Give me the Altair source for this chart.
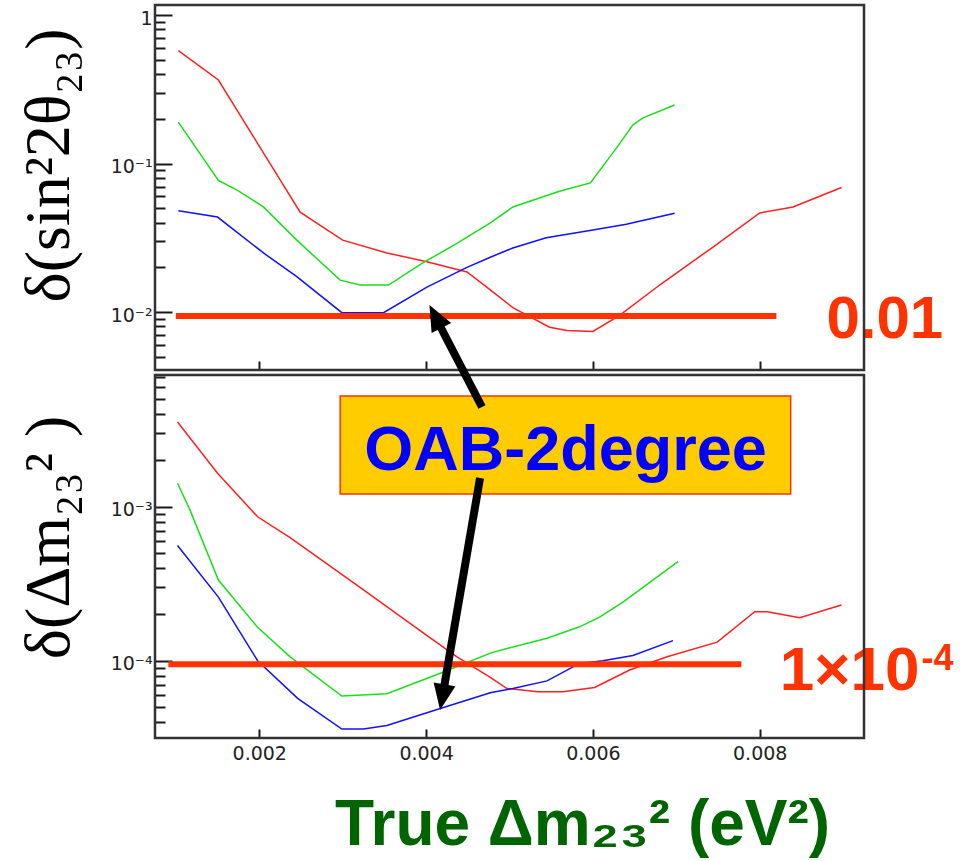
import altair as alt
import pandas as pd

# ---------------- data ----------------
series_names = ["red", "green", "blue"]
series_colors = ["#ff1f1f", "#18e018", "#1010ff"]

# top panel: delta(sin^2 2theta23) vs true dm23^2
top_red_x = [0.00103, 0.00151, 0.00249, 0.0030, 0.00353, 0.00401, 0.00449, 0.00477, 0.00504,
             0.00548, 0.00569, 0.0060, 0.00632, 0.0068, 0.00744, 0.0080, 0.0084, 0.00898]
top_red_y = [0.575, 0.365, 0.047, 0.0305, 0.025, 0.0218, 0.0186, 0.0141, 0.0107,
             0.0079, 0.0075, 0.0074, 0.0095, 0.0152, 0.0274, 0.0465, 0.051, 0.069]
top_green_x = [0.00103, 0.00151, 0.00174, 0.00205, 0.00245, 0.00297, 0.00321, 0.00355, 0.00396,
               0.00437, 0.00477, 0.00504, 0.0056, 0.00597, 0.00629, 0.00648, 0.0066, 0.00698]
top_green_y = [0.19, 0.077, 0.066, 0.051, 0.0305, 0.0164, 0.0152, 0.0152, 0.0214,
               0.029, 0.0398, 0.051, 0.065, 0.074, 0.129, 0.182, 0.203, 0.248]
top_blue_x = [0.00103, 0.0015, 0.00205, 0.00245, 0.00299, 0.00349, 0.00401, 0.00449, 0.00477,
              0.00504, 0.00544, 0.0060, 0.0064, 0.00698]
top_blue_y = [0.048, 0.0436, 0.025, 0.0173, 0.0099, 0.0099, 0.0147, 0.020, 0.0234,
              0.027, 0.0316, 0.0357, 0.039, 0.0463]

# bottom panel: delta(dm23^2) vs true dm23^2
bot_red_x = [0.00102, 0.0015, 0.00198, 0.00237, 0.00325, 0.00397, 0.00437, 0.00477, 0.00497, 0.00534,
             0.00564, 0.00602, 0.00644, 0.00689, 0.00749, 0.00794, 0.00809, 0.00848, 0.00898]
bot_red_y = [3.55e-3, 1.65e-3, 8.6e-4, 6.3e-4, 2.88e-4, 1.51e-4, 1.06e-4, 7.8e-5, 6.6e-5, 6.3e-5,
             6.3e-5, 6.7e-5, 8.7e-5, 1.06e-4, 1.32e-4, 2.08e-4, 2.08e-4, 1.9e-4, 2.3e-4]
bot_green_x = [0.00102, 0.00117, 0.00151, 0.00198, 0.00237, 0.00299, 0.00353, 0.00417, 0.00477,
               0.00497, 0.00545, 0.00584, 0.00608, 0.00636, 0.00702]
bot_green_y = [1.42e-3, 9.5e-4, 3.34e-4, 1.65e-4, 1.06e-4, 5.9e-5, 6.1e-5, 8.3e-5, 1.12e-4,
               1.2e-4, 1.4e-4, 1.66e-4, 1.92e-4, 2.4e-4, 4.4e-4]
bot_blue_x = [0.00102, 0.00151, 0.00198, 0.00246, 0.00299, 0.00325, 0.00353, 0.00417, 0.00477,
              0.00504, 0.00545, 0.00584, 0.00612, 0.00648, 0.00696]
bot_blue_y = [5.6e-4, 2.59e-4, 1.0e-4, 5.7e-5, 3.6e-5, 3.6e-5, 3.8e-5, 4.9e-5, 6.2e-5,
              6.6e-5, 7.4e-5, 9.6e-5, 1.0e-4, 1.08e-4, 1.35e-4]

# reference goals
top_ref_x = [0.001, 0.0082]
top_ref_y = [0.0094, 0.0094]
bot_ref_x = [0.00091, 0.00778]
bot_ref_y = [9.5e-5, 9.5e-5]

# axis ticks / labels
x_tick_values = [0.002, 0.004, 0.006, 0.008]
top_label_values = [1, 0.1, 0.01]
top_label_texts = ["1", "10⁻¹", "10⁻²"]
bot_label_values = [1e-3, 1e-4]
bot_label_texts = ["10⁻³", "10⁻⁴"]

# ---------------- layout constants ----------------
W, H = 977, 861
X_RANGE = [155, 864]
TOP_RANGE = [370, 5]
BOT_RANGE = [738, 375]
x_domain = [0.00075, 0.00925]
top_domain = [0.00407, 1.168]
bot_domain = [3.15e-5, 7.16e-3]


def long_df(xs_list, ys_list):
    rows = []
    for name, xs_, ys_ in zip(series_names, xs_list, ys_list):
        for xv, yv in zip(xs_, ys_):
            rows.append({"x": xv, "y": yv, "s": name})
    return pd.DataFrame(rows)


top_df = long_df([top_red_x, top_green_x, top_blue_x], [top_red_y, top_green_y, top_blue_y])
bot_df = long_df([bot_red_x, bot_green_x, bot_blue_x], [bot_red_y, bot_green_y, bot_blue_y])
top_ref_df = pd.DataFrame({"x": top_ref_x, "y": top_ref_y})
bot_ref_df = pd.DataFrame({"x": bot_ref_x, "y": bot_ref_y})
one = pd.DataFrame({"a": [0]})


def log_ticks(lo, hi, exps, major):
    out = []
    for e in exps:
        for m in range(1, 10):
            v = m * 10.0 ** e
            if lo <= v <= hi and ((m == 1) == major):
                out.append(v)
    return out


def label_expr(vals, texts):
    parts = [f"abs(datum.value - {v}) < {v * 0.01} ? '{t}'" for v, t in zip(vals[:-1], texts[:-1])]
    return " : ".join(parts) + f" : '{texts[-1]}'"


xs = alt.Scale(domain=x_domain, range=X_RANGE, nice=False, zero=False)
ys_top = alt.Scale(type="log", domain=top_domain, range=TOP_RANGE, nice=False)
ys_bot = alt.Scale(type="log", domain=bot_domain, range=BOT_RANGE, nice=False)
color = alt.Color("s:N", scale=alt.Scale(domain=series_names, range=series_colors), legend=None)

FRAME = "#333333"
TICK = "#1a1a1a"
REF = "#ff3300"
serif = "Liberation Serif, DejaVu Serif, serif"
sans = "Liberation Sans, Arial, sans-serif"


def tick_x_axis(off):
    return alt.Axis(orient="top", offset=off, values=x_tick_values, labels=False, domain=False,
                    grid=False, tickSize=9, tickWidth=2, tickColor=TICK, title=None)


def tick_y_axis(vals, size):
    return alt.Axis(orient="right", offset=-(W - X_RANGE[0]), values=vals, labels=False,
                    domain=False, grid=False, tickSize=size, tickWidth=2, tickColor=TICK,
                    title=None)


def carrier(df, yscale, xaxis, yaxis):
    """Invisible layer whose only job is to carry an axis."""
    return alt.Chart(df).mark_point(opacity=0).encode(
        x=alt.X("x:Q", scale=xs, axis=xaxis),
        y=alt.Y("y:Q", scale=yscale, axis=yaxis),
    )


def frame(ydom):
    return alt.Chart(one).mark_rect(fillOpacity=0, stroke=FRAME, strokeWidth=2.5).encode(
        x=alt.datum(x_domain[0]), x2=alt.datum(x_domain[1]),
        y=alt.datum(ydom[0]), y2=alt.datum(ydom[1]))


# ---------------- top panel ----------------
top_lines = alt.Chart(top_df).mark_line(strokeWidth=1.5).encode(
    x=alt.X("x:Q", scale=xs, axis=None),
    y=alt.Y("y:Q", scale=ys_top, axis=None),
    color=color,
)
top_ref = alt.Chart(top_ref_df).mark_line(color=REF, strokeWidth=6).encode(
    x=alt.X("x:Q", axis=None), y=alt.Y("y:Q", axis=None))
top_text = alt.Chart(one).mark_text(text="0.01", align="left", baseline="alphabetic", font=sans,
                                    fontWeight="bold", fontSize=60, color=REF).encode(
    x=alt.datum(0.0088), y=alt.datum(0.00668))
top_main = alt.layer(top_lines, top_ref, top_text, frame(top_domain))

top_ticks_major = carrier(top_df, ys_top, tick_x_axis(-TOP_RANGE[0]),
                          tick_y_axis(log_ticks(*top_domain, [-3, -2, -1, 0], True), 17))
top_ticks_minor = carrier(top_df, ys_top, None,
                          tick_y_axis(log_ticks(*top_domain, [-3, -2, -1, 0], False), 10))
top_labels = carrier(top_df, ys_top, None, alt.Axis(
    orient="left", offset=-X_RANGE[0], values=top_label_values,
    labelExpr=label_expr(top_label_values, top_label_texts),
    ticks=False, tickSize=0, domain=False, grid=False, labelPadding=3,
    labelFont="DejaVu Sans", labelFontSize=19, labelColor="#222", labelOffset=3,
    title="δ(sin²2θ₂₃)", titleFont=serif, titleFontSize=64, titleFontWeight="normal",
    titleColor="black", titleAngle=270, titleAlign="center", titleBaseline="alphabetic",
    titleX=-87, titleY=165))

# ---------------- bottom panel ----------------
bot_lines = alt.Chart(bot_df).mark_line(strokeWidth=1.5).encode(
    x=alt.X("x:Q", scale=xs, axis=None),
    y=alt.Y("y:Q", scale=ys_bot, axis=None),
    color=color,
)
bot_ref = alt.Chart(bot_ref_df).mark_line(color=REF, strokeWidth=6).encode(
    x=alt.X("x:Q", axis=None), y=alt.Y("y:Q", axis=None))
bot_text = alt.Chart(one).mark_text(text="1×10", align="left", baseline="alphabetic", font=sans,
                                    fontWeight="bold", fontSize=62, color=REF).encode(
    x=alt.datum(0.00824), y=alt.datum(6.45e-5))
bot_exp = alt.Chart(one).mark_text(text="-4", align="left", baseline="alphabetic", font=sans,
                                   fontWeight="bold", fontSize=36, color=REF).encode(
    x=alt.datum(0.00994), y=alt.datum(8.7e-5))
box = alt.Chart(one).mark_rect(fill="#ffcc00", stroke=REF, strokeWidth=1.5).encode(
    x=alt.datum(0.00297), x2=alt.datum(0.008371), y=alt.datum(0.005236), y2=alt.datum(0.001209))
box_text = alt.Chart(one).mark_text(text="OAB-2degree", align="center", baseline="alphabetic",
                                    font=sans, fontWeight="bold", fontSize=63, color="#0000ff").encode(
    x=alt.datum(0.005671), y=alt.datum(0.00173))

head_path = "M0,0 L0.85,2 L-0.85,2 Z"
arrow1_shaft = alt.Chart(one).mark_rule(color="black", strokeWidth=8).encode(
    x=alt.datum(0.00467), y=alt.datum(0.004439), x2=alt.datum(0.004119), y2=alt.datum(0.01673))
arrow1_head = alt.Chart(one).mark_point(shape=head_path, filled=True, size=676, angle=332.5,
                                        color="black", opacity=1).encode(
    x=alt.datum(0.00404), y=alt.datum(0.0204))
arrow2_shaft = alt.Chart(one).mark_rule(color="black", strokeWidth=8).encode(
    x=alt.datum(0.004647), y=alt.datum(0.001535), x2=alt.datum(0.0041988), y2=alt.datum(5.97e-5))
arrow2_head = alt.Chart(one).mark_point(shape=head_path, filled=True, size=676, angle=189.8,
                                        color="black", opacity=1).encode(
    x=alt.datum(0.004168), y=alt.datum(4.79e-5))

bot_main = alt.layer(bot_lines, bot_ref, bot_text, bot_exp, frame(bot_domain), box, box_text,
                     arrow1_shaft, arrow1_head, arrow2_shaft, arrow2_head)

bot_ticks_major = carrier(bot_df, ys_bot, tick_x_axis(-BOT_RANGE[0]),
                          tick_y_axis(log_ticks(*bot_domain, [-5, -4, -3], True), 17))
bot_ticks_minor = carrier(bot_df, ys_bot, None,
                          tick_y_axis(log_ticks(*bot_domain, [-5, -4, -3], False), 10))
bot_labels = carrier(bot_df, ys_bot, alt.Axis(
    orient="bottom", offset=BOT_RANGE[0] - H, values=x_tick_values, format=".3f",
    ticks=False, tickSize=0, domain=False, grid=False, labelPadding=6, labelBaseline="top",
    labelFont="DejaVu Sans", labelFontSize=19, labelColor="#222",
    title="True Δm₂₃² (eV²)", titleFont=sans, titleFontSize=64, titleFontWeight="bold",
    titleColor="#006400", titleAlign="center", titleBaseline="alphabetic",
    titleX=582, titleY=106), alt.Axis(
    orient="left", offset=-X_RANGE[0], values=bot_label_values,
    labelExpr=label_expr(bot_label_values, bot_label_texts),
    ticks=False, tickSize=0, domain=False, grid=False, labelPadding=3,
    labelFont="DejaVu Sans", labelFontSize=19, labelColor="#222", labelOffset=3,
    title="δ(Δm₂₃² )", titleFont=serif, titleFontSize=64, titleFontWeight="normal",
    titleColor="black", titleAngle=270, titleAlign="center", titleBaseline="alphabetic",
    titleX=-87, titleY=537))

chart = alt.layer(
    top_main, top_ticks_major, top_ticks_minor, top_labels,
    bot_main, bot_ticks_major, bot_ticks_minor, bot_labels,
).resolve_scale(
    x="independent", y="independent"
).properties(
    width=W, height=H, padding=0, background="white",
    autosize=alt.AutoSizeParams(type="none"),
).configure_view(strokeWidth=0)

chart.save("out.html", embed_options={"renderer": "svg", "actions": False})
